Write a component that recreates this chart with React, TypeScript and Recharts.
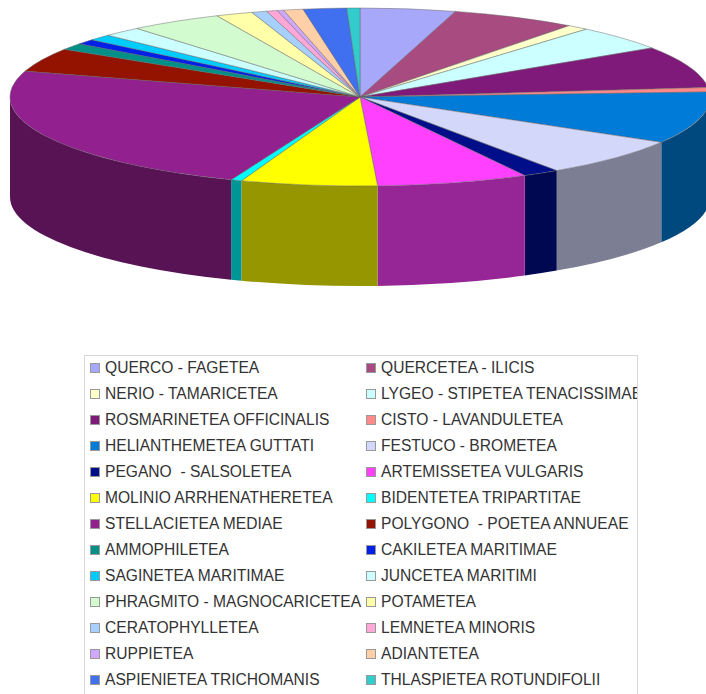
import { PieChart, Pie, Cell, Legend } from "recharts";

const categories = [
  "QUERCO - FAGETEA", "QUERCETEA - ILICIS", "NERIO - TAMARICETEA", "LYGEO - STIPETEA TENACISSIMAE",
  "ROSMARINETEA OFFICINALIS", "CISTO - LAVANDULETEA", "HELIANTHEMETEA GUTTATI", "FESTUCO - BROMETEA",
  "PEGANO  - SALSOLETEA", "ARTEMISSETEA VULGARIS", "MOLINIO ARRHENATHERETEA", "BIDENTETEA TRIPARTITAE",
  "STELLACIETEA MEDIAE", "POLYGONO  - POETEA ANNUEAE", "AMMOPHILETEA", "CAKILETEA MARITIMAE",
  "SAGINETEA MARITIMAE", "JUNCETEA MARITIMI", "PHRAGMITO - MAGNOCARICETEA", "POTAMETEA",
  "CERATOPHYLLETEA", "LEMNETEA MINORIS", "RUPPIETEA", "ADIANTETEA",
  "ASPIENIETEA TRICHOMANIS", "THLASPIETEA ROTUNDIFOLII",
];

const values = [
  4.4, 5.8, 1.0, 4.5, 7.6, 0.8, 9.4, 7.0, 1.7, 7.0, 6.3, 0.5, 23.7,
  4.3, 1.2, 0.9, 1.1, 1.8, 4.3, 1.7, 0.7, 0.5, 0.3, 0.9, 2.0, 0.6,
];

const colors = [
  "#a8a8fb", "#a84b80", "#ffffcc", "#ccffff", "#7f1a7a", "#ff8888", "#007bd8", "#d3d8fb", "#000e8a",
  "#ff40ff", "#ffff00", "#00ffff", "#93208f", "#931200", "#009088", "#0020e8", "#00ccff", "#ccffff",
  "#d3fbd0", "#ffffaa", "#a8d0ff", "#ffa8d8", "#d0a8ff", "#ffd0a8", "#4070f0", "#33cccc",
];

const chartData = categories.map((name, i) => ({ name, value: values[i] }));

const TILT = 89 / 350; // vertical squash of the disc
const DEPTH = 100; // wall height

function darken(hex: string) {
  const n = parseInt(hex.slice(1), 16);
  const c = [(n >> 16) & 255, (n >> 8) & 255, n & 255].map((v) => Math.round(v * 0.59));
  return `rgb(${c[0]},${c[1]},${c[2]})`;
}

// fake 3D: squashed sector on top, wall under the front half
function DiscSlice(props: any) {
  const { cx, cy, outerRadius: r, startAngle, endAngle, fill } = props;
  const ry = r * TILT;
  const pt = (deg: number, dy = 0) => {
    const a = (deg * Math.PI) / 180;
    return `${cx + r * Math.cos(a)} ${cy - ry * Math.sin(a) + dy}`;
  };
  const large = startAngle - endAngle > 180 ? 1 : 0;
  const wallFrom = Math.min(startAngle, 0);
  const wallTo = Math.max(endAngle, -180);
  return (
    <g>
      {wallFrom > wallTo && (
        <path
          d={`M ${pt(wallFrom)} A ${r} ${ry} 0 0 1 ${pt(wallTo)} L ${pt(wallTo, DEPTH)} A ${r} ${ry} 0 0 0 ${pt(wallFrom, DEPTH)} Z`}
          fill={darken(fill)}
          stroke="none"
        />
      )}
      <path
        d={`M ${cx} ${cy} L ${pt(startAngle)} A ${r} ${ry} 0 ${large} 1 ${pt(endAngle)} Z`}
        fill={fill}
        stroke="#666"
        strokeWidth={0.6}
        strokeOpacity={0.8}
      />
    </g>
  );
}

function LegendBox({ payload }: any) {
  return (
    <div
      style={{
        width: 554,
        height: 339,
        boxSizing: "border-box",
        border: "1px solid #d8d8d8",
        borderBottom: "none",
        overflow: "hidden",
        display: "grid",
        gridTemplateColumns: "276px 278px",
        gridAutoRows: "26px",
        fontFamily: "'Liberation Sans', Arial, sans-serif",
        fontSize: 15.6,
        color: "#333",
      }}
    >
      {(payload ?? []).map((item: any) => (
        <div
          key={item.value}
          style={{ display: "flex", alignItems: "center", whiteSpace: "pre", paddingLeft: 5, position: "relative", top: -1 }}
        >
          <span
            style={{
              width: 10,
              height: 10,
              marginRight: 5,
              flex: "none",
              background: item.color,
              border: "1px solid #999",
              boxSizing: "border-box",
            }}
          />
          {item.value}
        </div>
      ))}
    </div>
  );
}

export default function App() {
  return (
    <div style={{ position: "absolute", left: 0, top: 0, width: 706, height: 694, overflow: "hidden" }}>
      <PieChart width={706} height={694} margin={{ top: 0, right: 0, bottom: 0, left: 0 }}>
        <Pie
          data={chartData}
          dataKey="value"
          nameKey="name"
          cx={360}
          cy={97}
          outerRadius={350}
          startAngle={90}
          endAngle={-270}
          isAnimationActive={false}
          shape={DiscSlice}
        >
          {chartData.map((entry, index) => (
            <Cell key={`cell-${index}`} fill={colors[index]} />
          ))}
        </Pie>
        <Legend
          content={<LegendBox />}
          itemSorter={null}
          wrapperStyle={{ position: "absolute", left: 84, top: 355, bottom: "auto", width: 554, height: 339 }}
        />
      </PieChart>
    </div>
  );
}
